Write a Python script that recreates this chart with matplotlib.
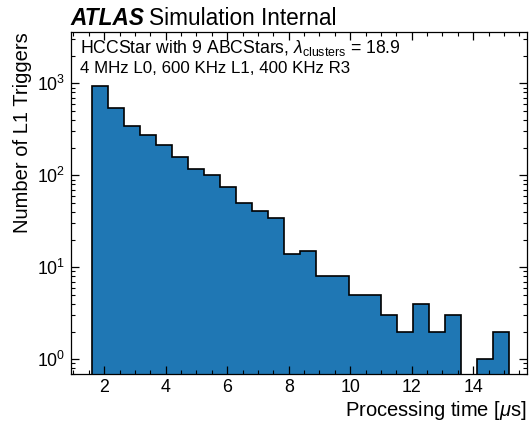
import numpy as np
import matplotlib
matplotlib.use("Agg")
import matplotlib.pyplot as plt
from matplotlib.ticker import LogLocator, MultipleLocator, NullFormatter

plt.rcParams['font.family'] = ['Liberation Sans', 'DejaVu Sans']
plt.rcParams['mathtext.fontset'] = 'custom'
plt.rcParams['mathtext.rm'] = 'Liberation Sans'
plt.rcParams['mathtext.it'] = 'Liberation Sans:italic'
plt.rcParams['mathtext.bf'] = 'Liberation Sans:bold'

# Histogram data (processing time in microseconds)
bin_lo = 1.59
bin_hi = 15.17
n_bins = 26
counts = [935, 535, 346, 272, 212, 159, 117, 100, 75, 50, 41, 34,
          14, 15, 8, 8, 5, 5, 3, 2, 4, 2, 3, 0, 1, 2]
x_ticks = [2, 4, 6, 8, 10, 12, 14]

edges = np.linspace(bin_lo, bin_hi, n_bins + 1)
counts = np.asarray(counts, dtype=float)
base = 1e-3
plot_vals = np.maximum(counts, base)

W, H = 530, 422
fig = plt.figure(figsize=(W / 100, H / 100), dpi=100)
ax = fig.add_axes([71 / W, 1 - 373.7 / H, (527 - 71) / W, (373.7 - 32.3) / H])

ax.stairs(plot_vals, edges, baseline=base, fill=True, facecolor='#1f77b4',
          edgecolor='none')
ax.stairs(plot_vals, edges, baseline=base, fill=False, color='black', linewidth=1.2)

ax.set_yscale('log')
ax.set_xlim(0.92, 15.75)
ax.set_ylim(0.697, 3585)
ax.set_xticks(x_ticks)
ax.xaxis.set_minor_locator(MultipleLocator(0.5))
ax.yaxis.set_major_locator(LogLocator(base=10, numticks=10))
ax.yaxis.set_minor_locator(LogLocator(base=10, subs=np.arange(2, 10), numticks=12))
ax.yaxis.set_minor_formatter(NullFormatter())

ax.tick_params(which='both', direction='in', top=True, right=True, labelsize=12.8)
ax.tick_params(which='major', length=6, width=0.9, pad=4)
ax.tick_params(which='minor', length=3, width=0.8)
for s in ax.spines.values():
    s.set_linewidth(0.9)

ax.set_xlabel(r'Processing time [$\mu$s]', fontsize=14.5, loc='right', labelpad=2)
ax.set_ylabel('Number of L1 Triggers', fontsize=14.5, loc='top', labelpad=4)

ax.text(80 / W, 1 - 53.3 / H, r'HCCStar with 9 ABCStars, $\lambda_{\mathrm{clusters}}$ = 18.9',
        transform=fig.transFigure, fontsize=12.7, va='baseline', ha='left')
ax.text(80 / W, 1 - 73.3 / H, '4 MHz L0, 600 KHz L1, 400 KHz R3',
        transform=fig.transFigure, fontsize=12.2, va='baseline', ha='left')

t1 = fig.text(70 / W, 1 - 25 / H, 'ATLAS', fontsize=16.3, fontweight='bold',
              fontstyle='italic', va='baseline', ha='left')
fig.canvas.draw()
bb = t1.get_window_extent(renderer=fig.canvas.get_renderer())
fig.text(bb.x1 / W + 5 / W, 1 - 25 / H, 'Simulation Internal', fontsize=16.3,
         va='baseline', ha='left')

fig.savefig('out.png', dpi=100)
